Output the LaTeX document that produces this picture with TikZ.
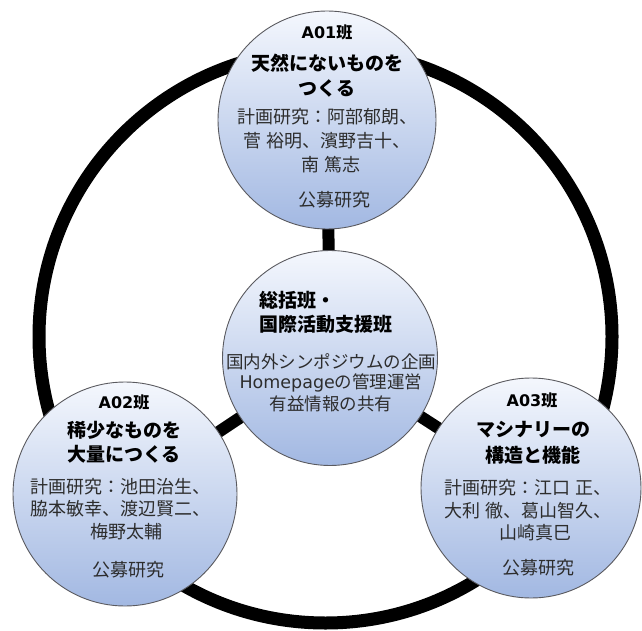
\documentclass[tikz,border=0pt]{standalone}
\usepackage{fontspec}
\setmainfont{Noto Sans CJK JP}
\newfontfamily\latfont{DejaVu Sans}
\usetikzlibrary{backgrounds}
\definecolor{cTop}{RGB}{244,247,253}
\definecolor{cBot}{RGB}{162,184,226}
\definecolor{cEdge}{RGB}{90,90,95}
\definecolor{txtgray}{RGB}{45,45,45}
\begin{document}
\begin{tikzpicture}[x=1pt,y=-1pt,
  grp/.style={circle, draw=cEdge, line width=0.9pt, top color=cTop, bottom color=cBot,
              minimum size=#1, inner sep=0pt},
  ringst/.style={circle, draw=black, line width=13pt, minimum size=573pt, inner sep=0pt},
  conn/.style={draw=black, line width=12pt},
  ttl/.style={font=\fontsize{16}{19}\selectfont\bfseries, text=black, inner sep=0pt},
  thm/.style={font=\fontsize{19}{22}\selectfont\bfseries, text=black, inner sep=0pt},
  mem/.style={font=\fontsize{18}{21}\selectfont, text=txtgray, inner sep=0pt},
  ctx/.style={font=\fontsize{17.5}{20}\selectfont, text=txtgray, inner sep=0pt}]
\useasboundingbox (0,0) rectangle (642,631);

% circles
\node[grp=218pt] (T) at (327,120) {};
\node[grp=215pt] (C) at (330,358) {};
\node[grp=224pt] (L) at (125,494) {};
\node[grp=220pt] (R) at (531,488) {};

% ring and connectors behind
\begin{scope}[on background layer]
  \node[ringst] (ring) at (325.5,336.5) {};
  \draw[conn] (C.center) -- (T.center);
  \draw[conn] (C.center) -- (L.center);
  \draw[conn] (C.center) -- (R.center);
\end{scope}

% A01
\node[ttl] (t1) at (327,32) {{\latfont A01}班};
\node[thm] (t2) at (327,63) {天然にないものを};
\node[thm] (t3) at (327,88) {つくる};
\node[mem] (t4) at (327,117) {計画研究：阿部郁朗、};
\node[mem] (t5) at (327,141) {菅 裕明、濱野吉十、};
\node[mem] (t6) at (331,165) {南 篤志};
\node[mem] (t7) at (334,200) {公募研究};

% center
\node[thm, anchor=west] (c1) at (259,300) {総括班・};
\node[thm, anchor=west] (c2) at (259,324) {国際活動支援班};
\node[ctx] (c3) at (331,362) {国内外シンポジウムの企画};
\node[ctx] (c4) at (331,383) {{\latfont Homepage}の管理運営};
\node[ctx] (c5) at (331,404) {有益情報の共有};

% A02
\node[ttl] (l1) at (124,402) {{\latfont A02}班};
\node[thm] (l2) at (124,430) {稀少なものを};
\node[thm] (l3) at (124,454) {大量につくる};
\node[mem] (l4) at (120,487) {計画研究：池田治生、};
\node[mem] (l5) at (120,509) {脇本敏幸、渡辺賢二、};
\node[mem] (l6) at (126,532) {梅野太輔};
\node[mem] (l7) at (128,570) {公募研究};

% A03
\node[ttl] (r1) at (532,400) {{\latfont A03}班};
\node[thm] (r2) at (533,430) {マシナリーの};
\node[thm] (r3) at (533,455) {構造と機能};
\node[mem] (r4) at (528,488) {計画研究：江口 正、};
\node[mem] (r5) at (528,511) {大利 徹、葛山智久、};
\node[mem] (r6) at (535,533) {山崎真巳};
\node[mem] (r7) at (538,568) {公募研究};
\end{tikzpicture}
\end{document}
